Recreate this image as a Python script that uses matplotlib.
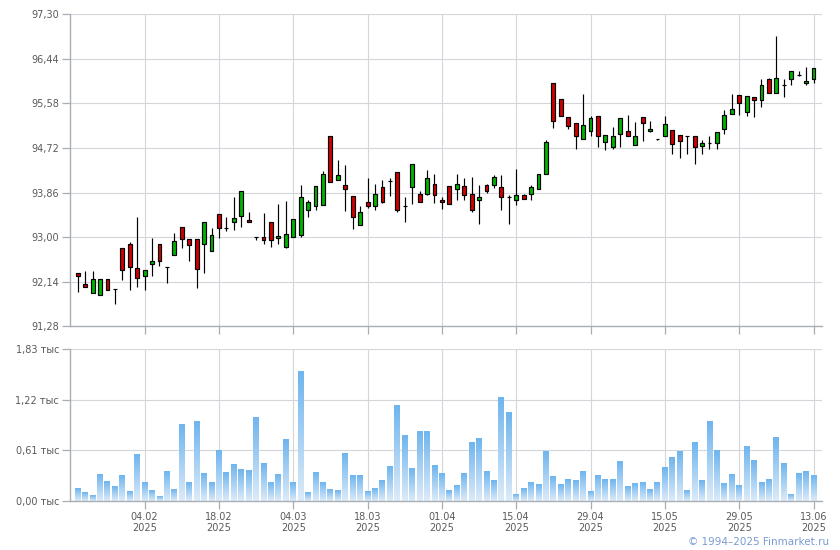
import numpy as np
import matplotlib
matplotlib.use("Agg")
import matplotlib.pyplot as plt
from matplotlib.colors import LinearSegmentedColormap

# ---- data ----
opens = [92.31, 92.095, 91.92, 91.88, 92.19, 92.0, 92.79, 92.865, 92.41, 92.25,
         92.48, 92.865, 92.42, 92.65, 93.19, 92.96, 92.96, 92.865, 92.73, 93.44,
         93.17, 93.29, 93.40, 93.33, 93.00, 93.00, 93.29, 92.98, 92.81, 93.00,
         93.05, 93.52, 93.60, 93.62, 94.96, 94.11, 94.00, 93.79, 93.23, 93.67,
         93.60, 93.96, 94.08, 94.25, 93.61, 93.96, 93.83, 93.83, 94.02, 93.71,
         93.98, 93.92, 93.98, 93.83, 93.71, 94.00, 94.00, 93.96, 93.78, 93.71,
         93.81, 93.83, 93.92, 94.21, 95.965, 95.66, 95.31, 95.21, 94.89, 95.04,
         95.33, 94.83, 94.73, 95.00, 95.04, 94.77, 95.31, 95.04, 94.89, 94.96,
         95.06, 94.98, 94.945, 94.945, 94.75, 94.81, 94.81, 95.08, 95.37, 95.75,
         95.41, 95.70, 95.64, 96.06, 95.79, 95.93, 96.06, 96.13, 95.965, 96.06]
closes = [92.25, 92.037, 92.19, 92.19, 91.98, 92.0, 92.365, 92.42, 92.21, 92.365,
          92.54, 92.54, 92.42, 92.92, 92.96, 92.85, 92.38, 93.29, 93.05, 93.17,
          93.17, 93.37, 93.885, 93.29, 93.00, 92.94, 92.94, 93.02, 93.06, 93.35,
          93.77, 93.67, 93.98, 94.21, 94.06, 94.19, 93.92, 93.385, 93.48, 93.60,
          93.83, 93.67, 94.08, 93.53, 93.61, 94.41, 93.67, 94.14, 93.81, 93.67,
          93.635, 94.02, 93.81, 93.52, 93.77, 93.885, 94.17, 93.77, 93.78, 93.81,
          93.73, 93.96, 94.21, 94.83, 95.25, 95.33, 95.14, 94.96, 95.16, 95.29,
          94.945, 94.98, 94.96, 95.29, 94.96, 94.96, 95.21, 95.08, 94.89, 95.18,
          94.79, 94.85, 94.945, 94.73, 94.81, 94.81, 95.02, 95.35, 95.48, 95.58,
          95.715, 95.64, 95.93, 95.79, 96.08, 95.93, 96.20, 96.13, 96.02, 96.27]
highs = [92.31, 92.35, 92.35, 92.19, 92.19, 92.0, 92.79, 92.90, 93.385, 92.365,
         92.98, 92.865, 92.42, 93.08, 93.19, 92.96, 92.96, 93.29, 93.17, 93.44,
         93.385, 93.77, 93.885, 93.48, 93.00, 93.46, 93.29, 93.64, 93.69, 93.35,
         94.00, 93.71, 93.98, 94.27, 94.96, 94.48, 94.39, 93.79, 93.60, 94.14,
         94.02, 94.10, 94.14, 94.25, 93.77, 94.41, 93.89, 94.29, 94.21, 93.77,
         93.98, 94.21, 94.14, 94.17, 94.00, 94.02, 94.19, 94.19, 93.81, 94.31,
         93.83, 94.00, 94.21, 94.87, 95.965, 95.66, 95.31, 95.21, 95.77, 95.33,
         95.33, 94.98, 95.12, 95.29, 95.35, 95.23, 95.31, 95.25, 94.89, 95.33,
         95.06, 94.98, 94.945, 94.945, 94.87, 94.96, 95.02, 95.445, 95.77, 95.75,
         95.715, 95.70, 96.06, 96.08, 96.88, 96.06, 96.20, 96.20, 96.29, 96.27]
lows = [91.935, 92.03, 91.92, 91.88, 91.98, 91.71, 92.166, 91.98, 92.04, 91.99,
        92.26, 92.435, 92.11, 92.65, 92.79, 92.54, 92.01, 92.31, 92.73, 92.99,
        93.12, 93.14, 93.19, 93.29, 92.94, 92.865, 92.81, 92.865, 92.79, 93.00,
        93.00, 93.385, 93.52, 93.62, 94.06, 94.10, 93.50, 93.15, 93.23, 93.56,
        93.52, 93.65, 93.79, 93.48, 93.29, 93.635, 93.67, 93.81, 93.65, 93.54,
        93.635, 93.71, 93.71, 93.48, 93.25, 93.85, 93.94, 93.52, 93.25, 93.62,
        93.73, 93.71, 93.92, 94.21, 95.10, 95.33, 95.08, 94.71, 94.89, 94.945,
        94.73, 94.69, 94.71, 94.73, 94.96, 94.77, 94.85, 95.02, 94.87, 94.96,
        94.60, 94.52, 94.60, 94.42, 94.60, 94.71, 94.71, 95.00, 95.37, 95.35,
        95.33, 95.31, 95.52, 95.79, 95.79, 95.71, 95.93, 96.10, 95.945, 95.965]
volumes = [0.156, 0.108, 0.064, 0.325, 0.229, 0.173, 0.301, 0.120, 0.554, 0.217,
           0.132, 0.060, 0.361, 0.144, 0.927, 0.217, 0.963, 0.337, 0.217, 0.614,
           0.349, 0.445, 0.385, 0.373, 1.011, 0.457, 0.217, 0.325, 0.746, 0.217,
           1.565, 0.108, 0.349, 0.217, 0.144, 0.132, 0.566, 0.313, 0.301, 0.120,
           0.156, 0.241, 0.421, 1.144, 0.783, 0.397, 0.831, 0.831, 0.433, 0.337,
           0.132, 0.181, 0.337, 0.710, 0.758, 0.361, 0.241, 1.252, 1.071, 0.084,
           0.156, 0.217, 0.193, 0.590, 0.289, 0.193, 0.253, 0.241, 0.361, 0.120,
           0.313, 0.253, 0.253, 0.470, 0.169, 0.205, 0.217, 0.144, 0.217, 0.409,
           0.518, 0.590, 0.132, 0.710, 0.241, 0.963, 0.614, 0.205, 0.325, 0.181,
           0.662, 0.482, 0.217, 0.253, 0.770, 0.457, 0.084, 0.337, 0.361, 0.301]
date_labels = ["04.02", "18.02", "04.03", "18.03", "01.04",
               "15.04", "29.04", "15.05", "29.05", "13.06"]
date_index = [9, 19, 29, 39, 49, 59, 69, 79, 89, 99]
year_label = "2025"
price_ticks = [91.28, 92.14, 93.00, 93.86, 94.72, 95.58, 96.44, 97.30]
vol_ticks = [0.00, 0.61, 1.22, 1.83]

# ---- style ----
UP = "#00b400"
DOWN = "#d00000"
GRID = "#d3d7dc"
SPINE = "#a9aeb5"
TXT = "#5a5a5a"
FS = 7

fig = plt.figure(figsize=(8.4, 5.5), dpi=100)
W, H = 840, 550
ax = fig.add_axes([70.3 / W, 1 - 326.3 / H, (821.7 - 70.3) / W, (326.3 - 14.3) / H])
axv = fig.add_axes([70.3 / W, 1 - 501 / H, (821.7 - 70.3) / W, (501 - 349) / H])

n = len(opens)
x = np.arange(n)
o = np.array(opens); c = np.array(closes)
hi = np.array(highs); lo = np.array(lows)

for a in (ax, axv):
    a.set_xlim(-1, 100.1)
    for s in ("top", "right"):
        a.spines[s].set_visible(False)
    for s in ("left", "bottom"):
        a.spines[s].set_color(SPINE)
        a.spines[s].set_linewidth(1.0)
    a.grid(True, color=GRID, linewidth=0.8)
    a.set_axisbelow(True)
    a.set_xticks(date_index)
    a.tick_params(axis="both", length=6, width=0.9, color=SPINE, labelsize=FS,
                  labelcolor=TXT, pad=2)

# candles
ax.vlines(x, lo, hi, color="black", linewidth=0.85, zorder=2)
body_bottom = np.minimum(o, c)
body_h = np.abs(c - o)
cols = [UP if cc >= oo else DOWN for oo, cc in zip(o, c)]
ax.bar(x, body_h, bottom=body_bottom, width=0.52, color=cols,
       edgecolor="black", linewidth=0.85, zorder=3)
ax.set_ylim(price_ticks[0], price_ticks[-1])
ax.set_yticks(price_ticks)
ax.set_yticklabels([f"{t:.2f}".replace(".", ",") for t in price_ticks])
ax.set_xticklabels([])

# volume bars with vertical gradient
cmap = LinearSegmentedColormap.from_list("vg", ["#dcebf9", "#6fb5ee"])
grad = np.linspace(0, 1, 64).reshape(-1, 1)
bars = axv.bar(x, volumes, width=0.8, color="none", linewidth=0, zorder=2)
for b in bars:
    bx, by = b.get_x(), b.get_y()
    bw, bh = b.get_width(), b.get_height()
    axv.imshow(grad, cmap=cmap, aspect="auto", origin="lower",
               extent=(bx, bx + bw, by, by + bh), zorder=2, interpolation="bilinear")
axv.set_xlim(-1, 100.1)
axv.set_ylim(vol_ticks[0], vol_ticks[-1])
axv.set_yticks(vol_ticks)
axv.set_yticklabels([f"{t:.2f}".replace(".", ",") + " тыс" for t in vol_ticks])
axv.set_xticklabels([f"{d}\n{year_label}" for d in date_labels], linespacing=1.1)

fig.text(829 / W, 1 - 542 / H, "© 1994–2025 Finmarket.ru", ha="right", va="center",
         fontsize=7.5, color="#7b9bd0")

fig.savefig("out.png", dpi=100)
